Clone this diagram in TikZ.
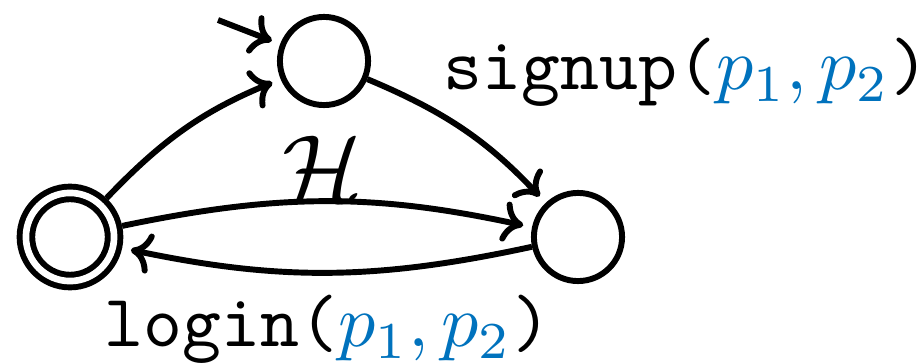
\documentclass[tikz,border=0pt]{standalone}
\usetikzlibrary{arrows.meta}
\definecolor{parblue}{RGB}{0,114,189}
\begin{document}
\begin{tikzpicture}[scale=0.4745,thick,>={To[length=2.8pt,width=5.5pt]},
  state/.style={draw,circle,minimum size=11.9pt,inner sep=0pt},
  accept/.style={state,double,double distance=0.9pt,outer sep=1.25pt},
  trans/.style={->,shorten >=1.2pt,bend left=12}]
\useasboundingbox (0,0) rectangle (9.21,3.64);
\node[state] (q0) at (3.24,3.03) {};
\node[accept] (q1) at (0.70,1.27) {};
\node[state] (q2) at (5.78,1.27) {};
\coordinate (init) at (2.18,3.44);
\draw [->,shorten >=1.2pt] (init) -- (q0);
\draw [trans] (q1) to (q0);
\draw [trans] (q0) to (q2);
\draw [trans] (q1) to (q2);
\draw [trans] (q2) to (q1);
\node[anchor=base,inner sep=0pt,scale=1.27] (hist) at (3.23,1.63) {$\mathcal{H}$};
\node[anchor=base west,inner sep=0pt] (signup) at (4.41,2.74) {\texttt{signup(}{\color{parblue}$p_1,p_2$}\texttt{)}};
\node[anchor=base west,inner sep=0pt] (login) at (1.02,0.17) {\texttt{login(}{\color{parblue}$p_1,p_2$}\texttt{)}};
\end{tikzpicture}
\end{document}
